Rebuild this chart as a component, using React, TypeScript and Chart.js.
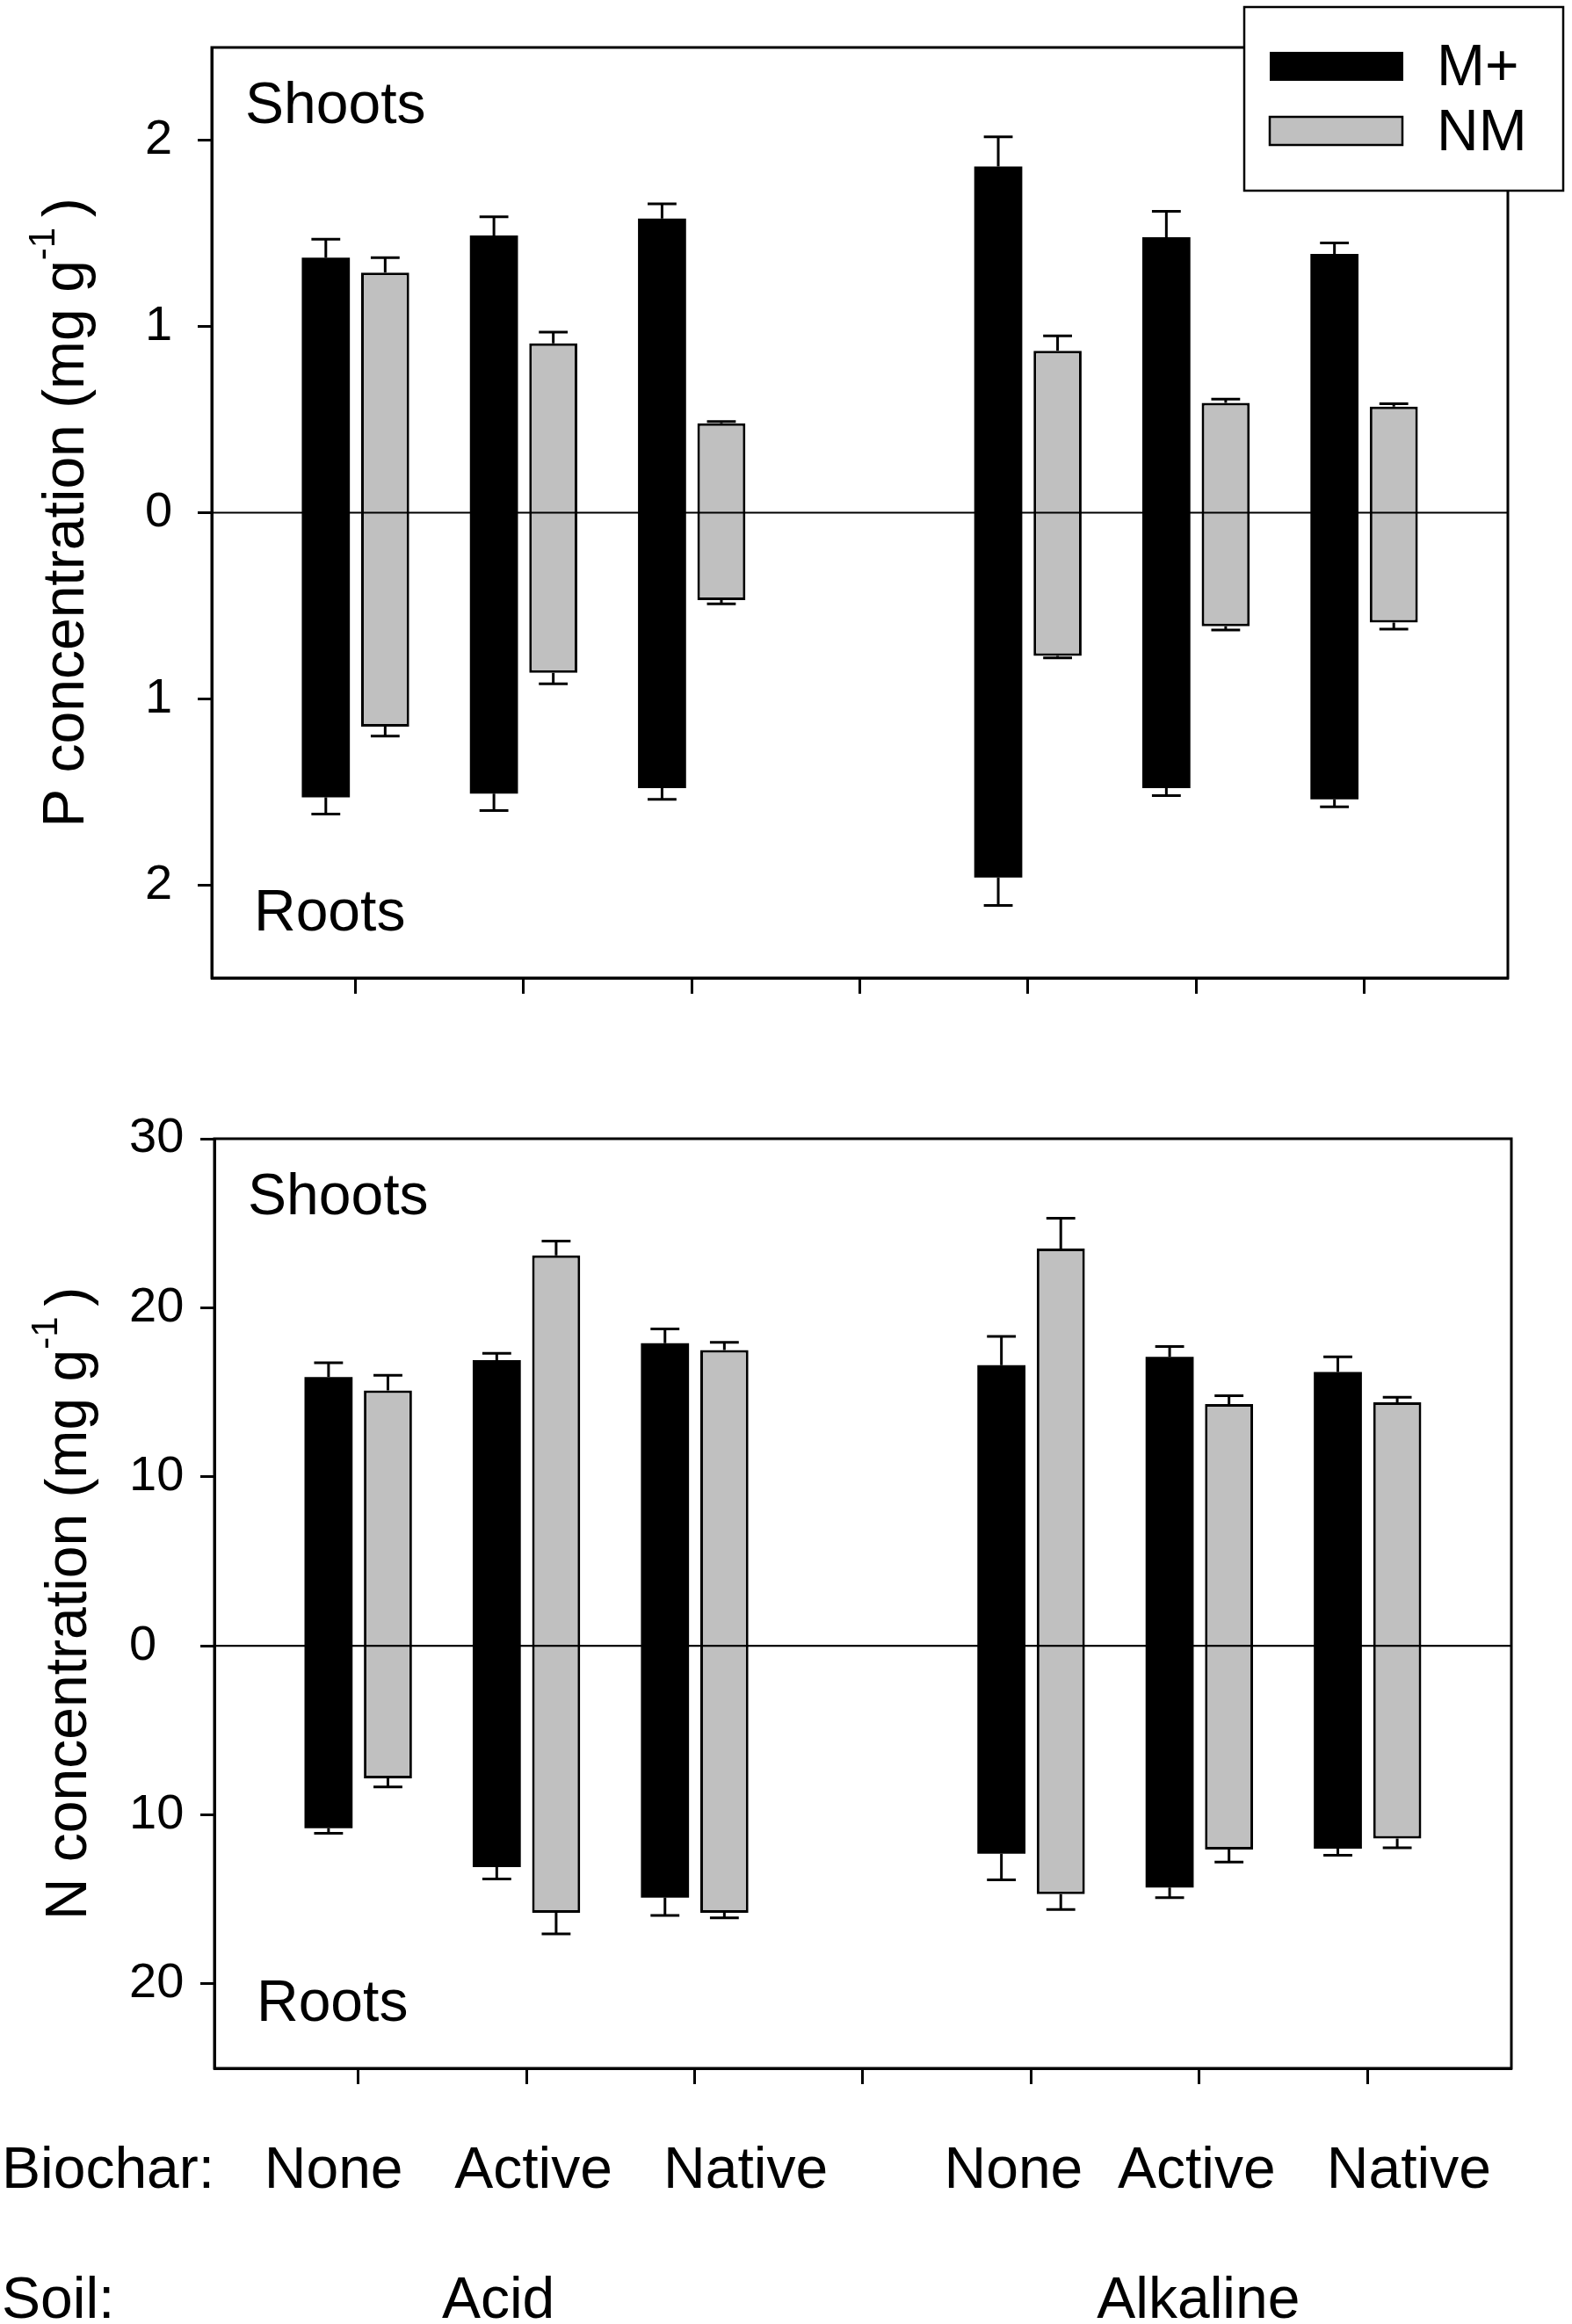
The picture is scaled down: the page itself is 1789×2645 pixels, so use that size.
"use client"

import { useEffect, useRef } from "react"
import { Chart, registerables } from "chart.js"

Chart.register(...registerables)

const FONT = '"Liberation Sans", Arial, Helvetica, sans-serif'
const GRAY = "#c0c0c0"

// x slots along the axis; the empty one splits acid and alkaline soil
const biochar = ["None", "Active", "Native", "", "None", "Active", "Native"]
const soils = ["Acid", "Alkaline"]
const soilCentre = [1, 5]
const seriesNames = ["M+", "NM"]

// P concentration (mg g-1), roots are drawn downwards
const pShootMyc = [1.37, 1.49, 1.58, null, 1.86, 1.48, 1.39]
const pShootMycErr = [0.1, 0.1, 0.08, null, 0.16, 0.14, 0.06]
const pRootMyc = [1.53, 1.51, 1.48, null, 1.96, 1.48, 1.54]
const pRootMycErr = [0.09, 0.09, 0.06, null, 0.15, 0.04, 0.04]
const pShootNM = [1.29, 0.91, 0.48, null, 0.87, 0.59, 0.57]
const pShootNMErr = [0.08, 0.06, 0.01, null, 0.08, 0.02, 0.015]
const pRootNM = [1.15, 0.86, 0.47, null, 0.77, 0.61, 0.59]
const pRootNMErr = [0.05, 0.06, 0.02, null, 0.01, 0.02, 0.035]
const pTicks = [-2, -1, 0, 1, 2]

// N concentration (mg g-1)
const nShootMyc = [15.9, 16.9, 17.9, null, 16.6, 17.1, 16.2]
const nShootMycErr = [0.85, 0.4, 0.85, null, 1.7, 0.6, 0.9]
const nRootMyc = [10.8, 13.1, 14.9, null, 12.3, 14.3, 12.0]
const nRootMycErr = [0.3, 0.7, 1.05, null, 1.55, 0.6, 0.4]
const nShootNM = [15.1, 23.1, 17.5, null, 23.5, 14.3, 14.4]
const nShootNMErr = [0.9, 0.85, 0.45, null, 1.8, 0.5, 0.3]
const nRootNM = [7.85, 15.8, 15.8, null, 14.7, 12.05, 11.4]
const nRootNMErr = [0.5, 1.25, 0.3, null, 0.9, 0.75, 0.55]
const nTicks = [-20, -10, 0, 10, 20, 30]

// small horizontal nudges of the category texts (they are not centred on ticks)
const labelNudge = [-28, 8, 58, 0, -20, -3, 47]
const soilNudge = [-32, -1]
const TEXT = `66px ${FONT}`

interface PanelProps {
  height: number
  title: string
  shootMyc: (number | null)[]
  shootMycErr: (number | null)[]
  rootMyc: (number | null)[]
  rootMycErr: (number | null)[]
  shootNM: (number | null)[]
  shootNMErr: (number | null)[]
  rootNM: (number | null)[]
  rootNMErr: (number | null)[]
  yMin: number
  yMax: number
  yTicks: number[]
  padding: { top: number; left: number; right: number; bottom: number }
  yWidth: number
  legend?: boolean
  categories?: boolean
}

function Panel(p: PanelProps) {
  const canvasRef = useRef<HTMLCanvasElement>(null)

  useEffect(() => {
    if (!canvasRef.current) return

    const series = [
      { label: seriesNames[0], shoot: p.shootMyc, root: p.rootMyc, up: p.shootMycErr, down: p.rootMycErr, color: "#000", border: 0 },
      { label: seriesNames[1], shoot: p.shootNM, root: p.rootNM, up: p.shootNMErr, down: p.rootNMErr, color: GRAY, border: 3 },
    ]

    const decor = {
      id: "decor",
      afterDatasetsDraw(chart: any) {
        const ctx = chart.ctx
        const { left, right, top, bottom } = chart.chartArea
        const ys = chart.scales.y
        ctx.save()
        ctx.strokeStyle = "#000"
        ctx.lineWidth = 3
        // error bars, pointing away from zero
        series.forEach((s, di) => {
          const meta = chart.getDatasetMeta(di)
          chart.data.datasets[di].data.forEach((d: any, j: number) => {
            const i = d.x
            const hi = s.shoot[i] as number
            const lo = s.root[i] as number
            const { x, width } = meta.data[j].getProps(["x", "width"], true)
            const cap = width * 0.3
            const ends = [
              [hi, hi + (s.up[i] as number)],
              [-lo, -(lo + (s.down[i] as number))],
            ]
            ends.forEach(([from, to]) => {
              const y0 = ys.getPixelForValue(from)
              const y1 = ys.getPixelForValue(to)
              ctx.beginPath()
              ctx.moveTo(x, y0)
              ctx.lineTo(x, y1)
              ctx.moveTo(x - cap, y1)
              ctx.lineTo(x + cap, y1)
              ctx.stroke()
            })
          })
        })
        // zero line
        const z = ys.getPixelForValue(0)
        ctx.lineWidth = 2.2
        ctx.beginPath()
        ctx.moveTo(left, z)
        ctx.lineTo(right, z)
        ctx.stroke()
        // frame
        ctx.lineWidth = 3
        ctx.strokeRect(left, top, right - left, bottom - top)
        ctx.restore()
      },
      afterDraw(chart: any) {
        const ctx = chart.ctx
        const { left, right, top, bottom } = chart.chartArea
        const xs = chart.scales.x

        ctx.save()
        ctx.fillStyle = "#000"
        ctx.textBaseline = "alphabetic"
        ctx.textAlign = "left"
        ctx.font = TEXT
        ctx.fillText("Shoots", left + 38, top + 86)
        ctx.fillText("Roots", left + 48, bottom - 54)
        ctx.restore()

        // rotated y title with superscript
        ctx.save()
        ctx.fillStyle = "#000"
        ctx.textBaseline = "alphabetic"
        ctx.textAlign = "left"
        ctx.translate(left - 146, (top + bottom) / 2)
        ctx.rotate(-Math.PI / 2)
        const main = p.title + " (mg g"
        ctx.font = `66px ${FONT}`
        const w1 = ctx.measureText(main).width
        const w3 = ctx.measureText(")").width
        ctx.font = `42px ${FONT}`
        const w2 = ctx.measureText("-1 ").width
        const x0 = -(w1 + w2 + w3) / 2
        ctx.fillText("-1", x0 + w1, -33)
        ctx.font = `66px ${FONT}`
        ctx.fillText(main, x0, 0)
        ctx.fillText(")", x0 + w1 + w2, 0)
        ctx.restore()

        if (p.legend) {
          ctx.save()
          const bx = right - 300
          const by = 8
          ctx.fillStyle = "#fff"
          ctx.fillRect(bx, by, 363, 209)
          ctx.strokeStyle = "#000"
          ctx.lineWidth = 2.5
          ctx.strokeRect(bx, by, 363, 209)
          ctx.fillStyle = "#000"
          ctx.fillRect(bx + 29, by + 51, 152, 33)
          ctx.fillStyle = GRAY
          ctx.fillRect(bx + 29, by + 125, 151, 32)
          ctx.strokeRect(bx + 29, by + 125, 151, 32)
          ctx.fillStyle = "#000"
          ctx.font = TEXT
          ctx.textAlign = "left"
          ctx.fillText(seriesNames[0], bx + 219, by + 89)
          ctx.fillText(seriesNames[1], bx + 219, by + 163)
          ctx.restore()
        }

        if (p.categories) {
          ctx.save()
          ctx.fillStyle = "#000"
          ctx.font = TEXT
          ctx.textAlign = "center"
          biochar.forEach((lab, i) => {
            if (lab) ctx.fillText(lab, xs.getPixelForValue(i) + labelNudge[i], bottom + 136)
          })
          soils.forEach((s, k) => {
            ctx.fillText(s, xs.getPixelForValue(soilCentre[k]) + soilNudge[k], bottom + 284)
          })
          ctx.textAlign = "left"
          ctx.fillText("Biochar:", 2, bottom + 136)
          ctx.fillText("Soil:", 2, bottom + 284)
          ctx.restore()
        }
      },
    }

    const chart = new Chart(canvasRef.current, {
      type: "bar",
      data: {
        datasets: series.map((s) => ({
          label: s.label,
          data: biochar
            .map((_, i) => ({ x: i, y: s.shoot[i] == null ? null : [-(s.root[i] as number), s.shoot[i] as number] }))
            .filter((d) => d.y !== null) as any,
          backgroundColor: s.color,
          borderColor: "#000",
          borderWidth: s.border,
          borderSkipped: false,
          categoryPercentage: 0.706,
          barPercentage: 0.81,
        })),
      },
      options: {
        responsive: false,
        animation: false,
        layout: { padding: p.padding },
        plugins: {
          legend: { display: false },
          tooltip: { enabled: false },
        },
        scales: {
          x: {
            type: "linear",
            min: -0.855,
            max: 6.855,
            offset: false,
            afterBuildTicks: (scale: any) => {
              scale.ticks = biochar.map((_, i) => ({ value: i }))
            },
            ticks: { display: false },
            grid: {
              offset: false,
              drawOnChartArea: false,
              drawTicks: true,
              tickLength: 18,
              tickWidth: 3,
              tickColor: "#000",
            },
            border: { display: true, color: "#000", width: 3 },
            afterFit: (scale: any) => {
              scale.height = 30
            },
          },
          y: {
            min: p.yMin,
            max: p.yMax,
            afterBuildTicks: (scale: any) => {
              scale.ticks = p.yTicks.map((v) => ({ value: v }))
            },
            ticks: {
              autoSkip: false,
              crossAlign: "far",
              color: "#000",
              font: { family: FONT, size: 56 },
              callback: (v: any) => String(Math.abs(Number(v))),
            },
            grid: {
              drawOnChartArea: false,
              drawTicks: true,
              tickLength: 16,
              tickWidth: 3,
              tickColor: "#000",
            },
            border: { display: true, color: "#000", width: 3 },
            afterFit: (scale: any) => {
              scale.width = p.yWidth
            },
          },
        },
      } as any,
      plugins: [decor],
    })

    return () => {
      chart.destroy()
    }
  }, [p])

  return <canvas ref={canvasRef} width={1789} height={p.height} style={{ display: "block" }} />
}

const pPanel: PanelProps = {
  height: 1240,
  title: "P concentration",
  shootMyc: pShootMyc,
  shootMycErr: pShootMycErr,
  rootMyc: pRootMyc,
  rootMycErr: pRootMycErr,
  shootNM: pShootNM,
  shootNMErr: pShootNMErr,
  rootNM: pRootNM,
  rootNMErr: pRootNMErr,
  yMin: -2.5,
  yMax: 2.5,
  yTicks: pTicks,
  padding: { top: 54, left: 165, right: 73, bottom: 97 },
  yWidth: 76,
  legend: true,
}

const nPanel: PanelProps = {
  height: 1405,
  title: "N concentration",
  shootMyc: nShootMyc,
  shootMycErr: nShootMycErr,
  rootMyc: nRootMyc,
  rootMycErr: nRootMycErr,
  shootNM: nShootNM,
  shootNMErr: nShootNMErr,
  rootNM: nRootNM,
  rootNMErr: nRootNMErr,
  yMin: -25,
  yMax: 30,
  yTicks: nTicks,
  padding: { top: 56, left: 147, right: 69, bottom: 261 },
  yWidth: 97,
  categories: true,
}

export default function App() {
  return (
    <div style={{ position: "absolute", left: 0, top: 0, width: 1789, height: 2645, background: "#fff" }}>
      <Panel {...pPanel} />
      <Panel {...nPanel} />
    </div>
  )
}
